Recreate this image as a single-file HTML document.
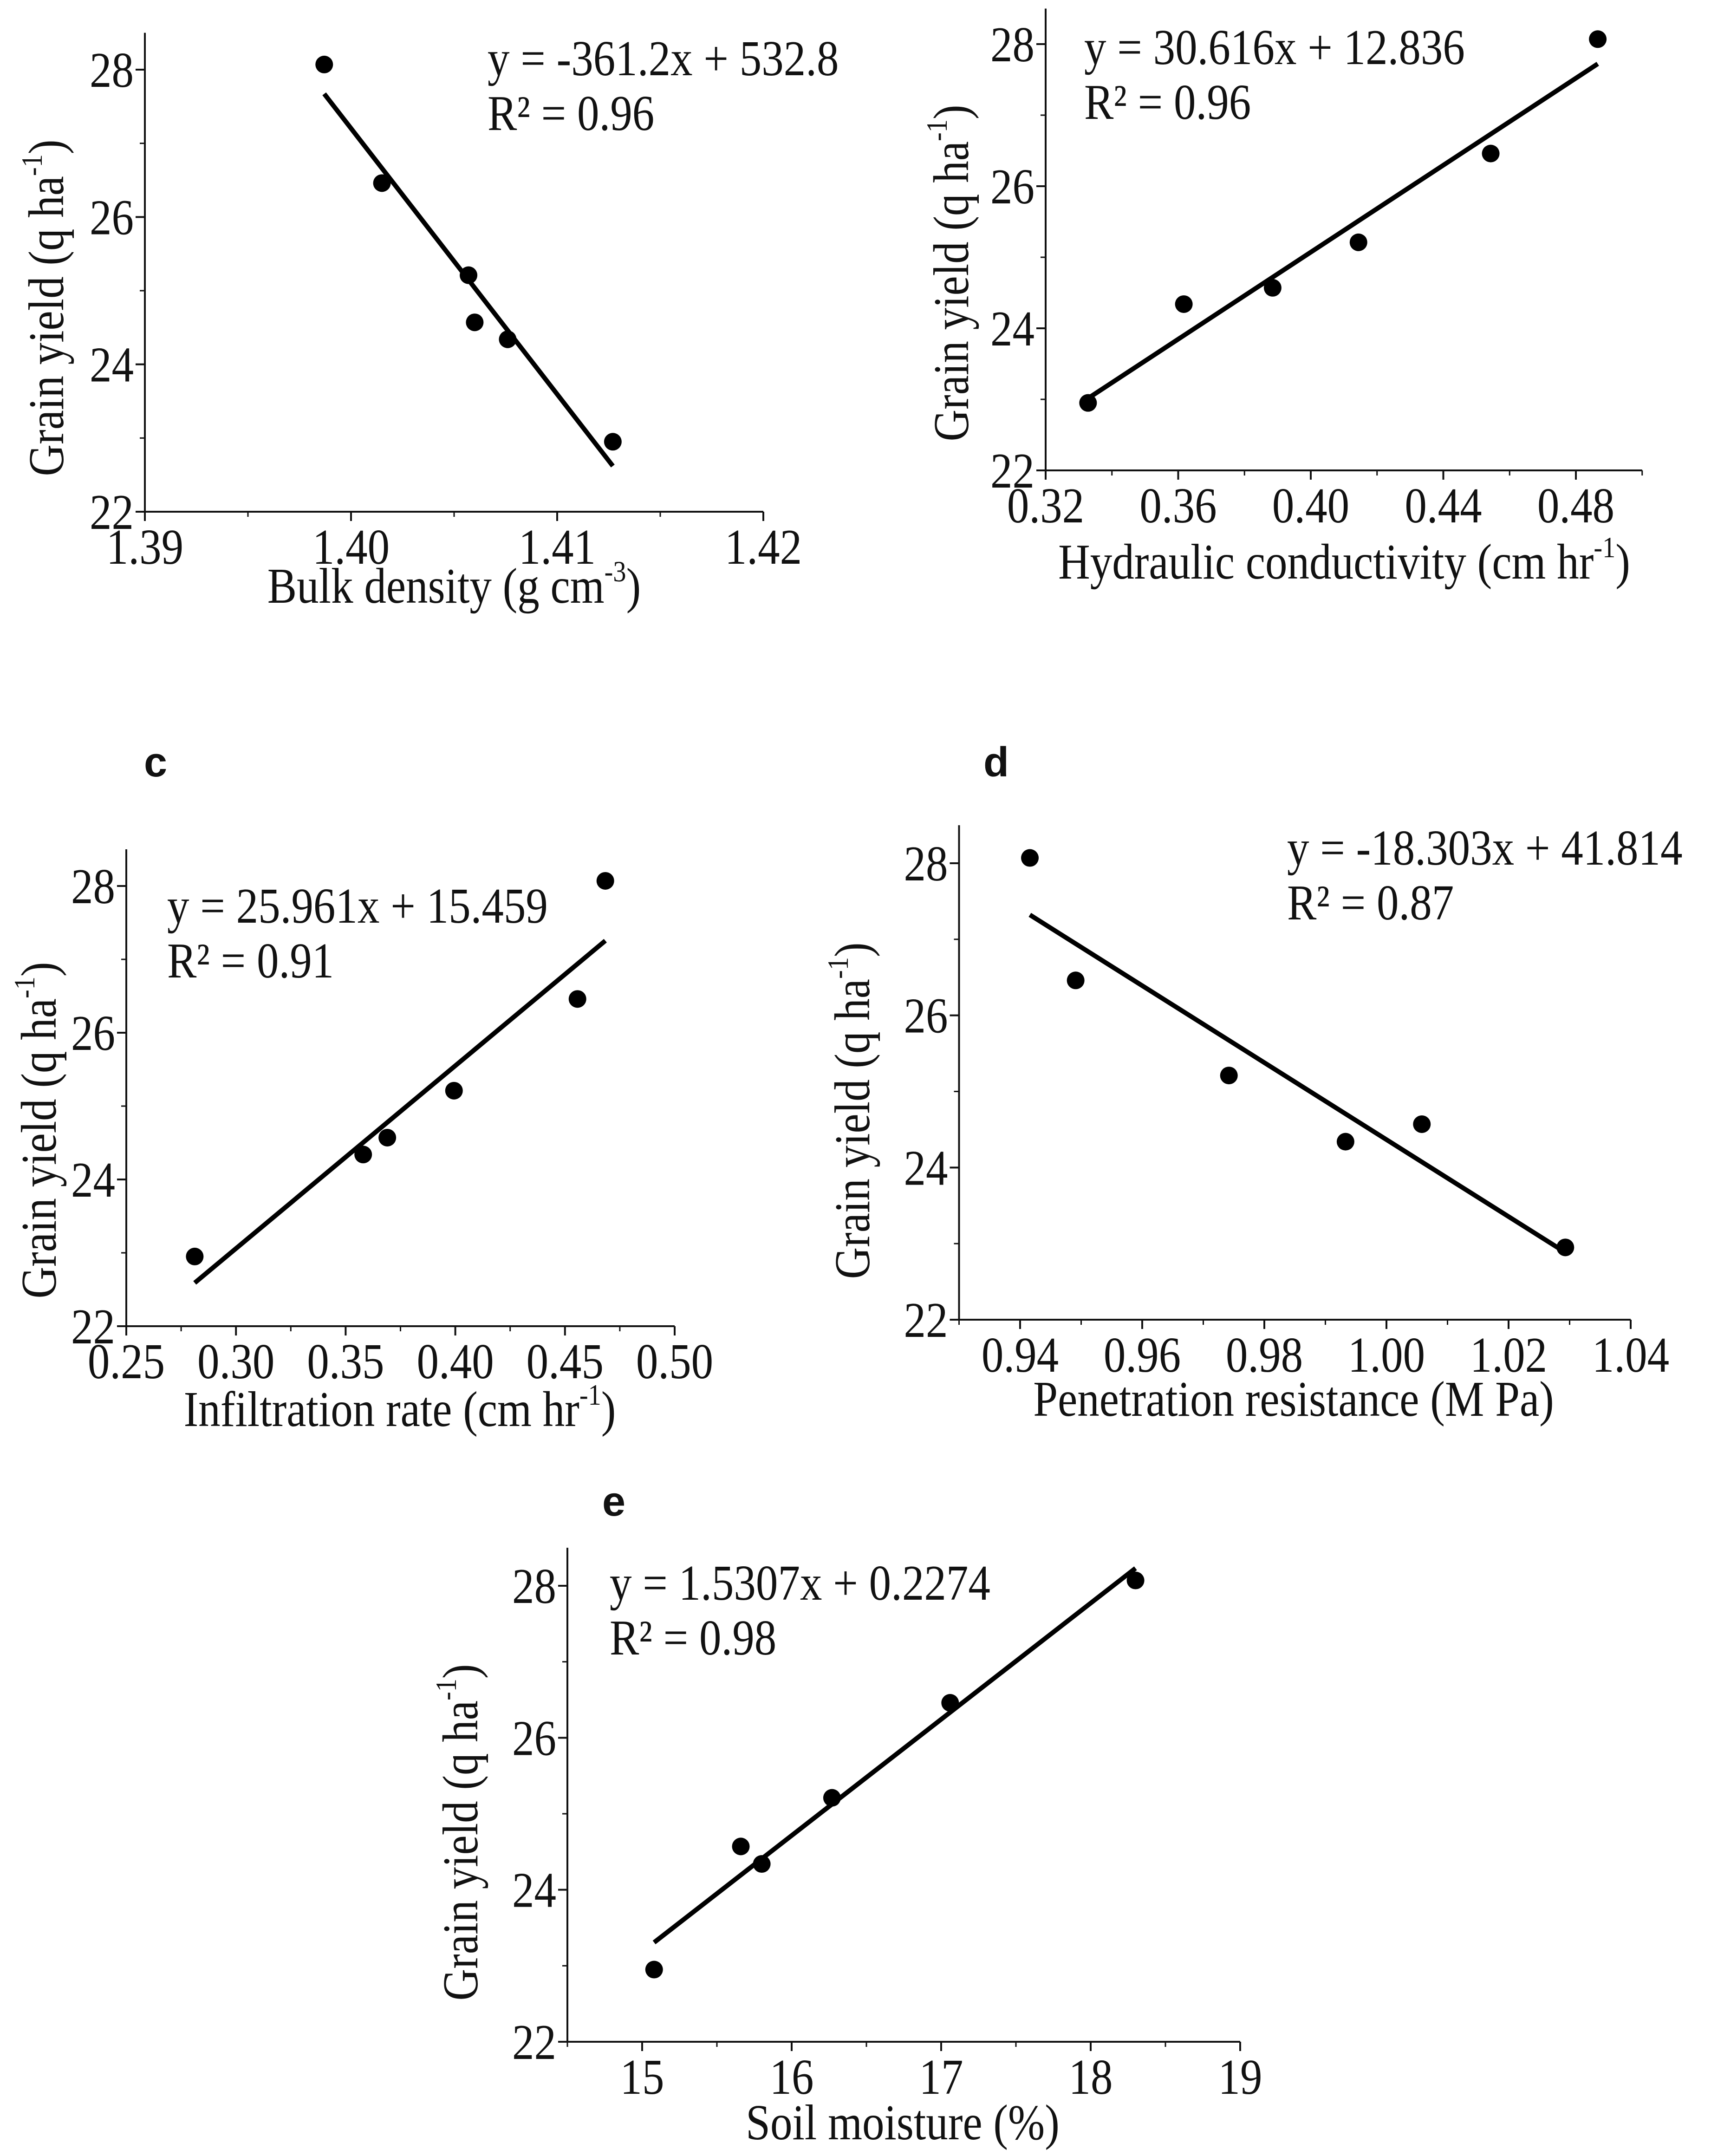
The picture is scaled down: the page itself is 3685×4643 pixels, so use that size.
<!DOCTYPE html>
<html><head><meta charset="utf-8"><style>
html,body{margin:0;padding:0;background:#fff;}
svg{display:block;}
text{font-family:"Liberation Serif",serif;fill:#111;}
.lbl{font-family:"Liberation Sans",sans-serif;font-weight:bold;}
</style></head><body>
<svg id="fig" xmlns="http://www.w3.org/2000/svg" width="3685" height="4643" viewBox="0 0 3685 4643">
<rect width="3685" height="4643" fill="#fff"/>
<text class="lbl" x="310" y="1672" font-size="90">c</text>
<text class="lbl" x="2118" y="1672" font-size="90">d</text>
<text class="lbl" x="1297" y="3264" font-size="90">e</text>
</svg>
<script>
const yieldA = [28.07, 26.46, 25.21, 24.57, 24.34, 22.95];
const bulkDensity = [1.3987, 1.4015, 1.4057, 1.4060, 1.4076, 1.4127];
const yieldB = [22.95, 24.34, 24.57, 25.21, 26.46, 28.07];
const hydraulicCond = [0.3328, 0.3617, 0.3885, 0.4144, 0.4543, 0.4866];
const yieldC = [22.95, 24.34, 24.57, 25.21, 26.46, 28.07];
const infiltration = [0.2812, 0.3580, 0.3690, 0.3994, 0.4557, 0.4684];
const yieldD = [28.07, 26.46, 25.21, 24.34, 24.57, 22.95];
const penetration = [0.9416, 0.9491, 0.9742, 0.9933, 1.0058, 1.0293];
const yieldE = [22.95, 24.57, 24.34, 25.21, 26.46, 28.07];
const soilMoisture = [15.08, 15.66, 15.80, 16.27, 17.06, 18.30];

const yTicks = [22, 24, 26, 28];
const yMinor = [23, 25, 27];
const xTicksA = ["1.39", "1.40", "1.41", "1.42"];
const xTicksB = ["0.32", "0.36", "0.40", "0.44", "0.48"];
const xTicksC = ["0.25", "0.30", "0.35", "0.40", "0.45", "0.50"];
const xTicksD = ["0.94", "0.96", "0.98", "1.00", "1.02", "1.04"];
const xTicksE = ["15", "16", "17", "18", "19"];
const eqA = ["y = -361.2x + 532.8", "R² = 0.96"];
const eqB = ["y = 30.616x + 12.836", "R² = 0.96"];
const eqC = ["y = 25.961x + 15.459", "R² = 0.91"];
const eqD = ["y = -18.303x + 41.814", "R² = 0.87"];
const eqE = ["y = 1.5307x + 0.2274", "R² = 0.98"];

const NS = "http://www.w3.org/2000/svg";
const svg = document.getElementById('fig');
function mk(tag, attrs, parent) {
  const e = document.createElementNS(NS, tag);
  for (const k in attrs) e.setAttribute(k, attrs[k]);
  (parent || svg).appendChild(e);
  return e;
}
const FS = 108, SX = 0.88;
function txt(parent, x, y, anchor, rot) {
  const w = mk('g', {transform:`translate(${x},${y})${rot ? ' rotate(-90)' : ''} scale(${SX},1)`}, parent);
  return mk('text', {x:0, y:0, 'font-size':FS, 'text-anchor':anchor}, w);
}

const panels = [
 {id:'a', xs:bulkDensity, ys:yieldA, ticks:xTicksA, minorStep:0.005, x0:1.39, x1:1.42, px0:312, px1:1644, axMin:1.39, axMax:1.42, py22:1102, py28:150,
  eq:eqA, eqx:1050, eqy:162, title:["Bulk density (g cm","-3",")"], tx:978, ty:1298, ytx:98, yty:663},
 {id:'b', xs:hydraulicCond, ys:yieldB, ticks:xTicksB, minorStep:0.02, x0:0.32, x1:0.48, px0:2252, px1:3394, axMin:0.32, axMax:0.50, py22:1013, py28:95,
  eq:eqB, eqx:2335, eqy:138, title:["Hydraulic conductivity (cm hr","-1",")"], tx:2895, ty:1246, ytx:2047, yty:588},
 {id:'c', xs:infiltration, ys:yieldC, ticks:xTicksC, minorStep:0.025, x0:0.25, x1:0.50, px0:272, px1:1453, axMin:0.25, axMax:0.50, py22:2856, py28:1908,
  eq:eqC, eqx:360, eqy:1987, title:["Infiltration rate (cm hr","-1",")"], tx:861, ty:3071, ytx:82, yty:2434},
 {id:'d', xs:penetration, ys:yieldD, ticks:xTicksD, minorStep:0.01, x0:0.94, x1:1.04, px0:2197, px1:3512, axMin:0.93, axMax:1.04, py22:2842, py28:1859,
  eq:eqD, eqx:2772, eqy:1862, title:["Penetration resistance (M Pa)"], tx:2786, ty:3049, ytx:1834, yty:2392},
 {id:'e', xs:soilMoisture, ys:yieldE, ticks:xTicksE, minorStep:0.5, x0:15, x1:19, px0:1383, px1:2671, axMin:14.5, axMax:19, py22:4397, py28:3415,
  eq:eqE, eqx:1313, eqy:3445, title:["Soil moisture (%)"], tx:1944, ty:4607, ytx:990, yty:3946}
];

panels.forEach(p => {
  const g = mk('g', {});
  
  
  const sx = v => p.px0 + (v - p.x0) / (p.x1 - p.x0) * (p.px1 - p.px0);
  const sy = v => p.py22 + (v - 22) / 6 * (p.py28 - p.py22);
  const L = sx(p.axMin), R = sx(p.axMax), B = sy(22), T = sy(28.5);
  const ax = mk('path', {d:`M${L},${T} V${B} H${R}`, fill:'none', stroke:'#111', 'stroke-width':4}, g);
  
  
  yTicks.forEach(v => {
    mk('line', {x1:L-20, x2:L, y1:sy(v), y2:sy(v), stroke:'#111', 'stroke-width':4}, g);
    const t = txt(g, L-24, sy(v)+37, 'end');
    
    
    t.textContent = String(v);
  });
  yMinor.forEach(v => mk('line', {x1:L-11, x2:L, y1:sy(v), y2:sy(v), stroke:'#111', 'stroke-width':3}, g));
  p.ticks.forEach(s => {
    const v = parseFloat(s);
    mk('line', {x1:sx(v), x2:sx(v), y1:B, y2:B+20, stroke:'#111', 'stroke-width':4}, g);
    const t = txt(g, sx(v), B+112, 'middle');
    
    
    t.textContent = s;
  });
  for (let v = p.axMin; v <= p.axMax + 1e-9; v += p.minorStep) {
    const isMajor = p.ticks.some(s => Math.abs(parseFloat(s) - v) < 1e-6);
    if (!isMajor) mk('line', {x1:sx(v), x2:sx(v), y1:B, y2:B+11, stroke:'#111', 'stroke-width':3}, g);
  }
  const n = p.xs.length;
  const mx = p.xs.reduce((a,b)=>a+b,0)/n, my = p.ys.reduce((a,b)=>a+b,0)/n;
  let sxy = 0, sxx = 0;
  for (let i=0;i<n;i++){ sxy += (p.xs[i]-mx)*(p.ys[i]-my); sxx += (p.xs[i]-mx)**2; }
  const m = sxy/sxx, c = my - m*mx;
  const xa = Math.min(...p.xs), xb = Math.max(...p.xs);
  const ln = mk('line', {x1:sx(xa), y1:sy(m*xa+c), x2:sx(xb), y2:sy(m*xb+c), stroke:'#000', 'stroke-width':10}, g);
  
  
  for (let i=0;i<n;i++){
    const d = mk('circle', {cx:sx(p.xs[i]), cy:sy(p.ys[i]), r:19, fill:'#000'}, g);
    
    
  }
  p.eq.forEach((s, i) => {
    const t = txt(g, p.eqx, p.eqy + i*118, 'start');
    
    
    t.textContent = s;
  });
  const xt = txt(g, p.tx, p.ty, 'middle');
  
  
  const s1 = mk('tspan', {}, xt); s1.textContent = p.title[0];
  if (p.title.length > 1) {
    const s2 = mk('tspan', {'font-size':64, dy:-46}, xt); s2.textContent = p.title[1];
    const s3 = mk('tspan', {dy:46}, xt); s3.textContent = p.title[2];
  }
  const yt = txt(g, p.ytx+38, p.yty, 'middle', true);
  
  
  const a1 = mk('tspan', {}, yt); a1.textContent = 'Grain yield (q ha';
  const a2 = mk('tspan', {'font-size':64, dy:-46}, yt); a2.textContent = '-1';
  const a3 = mk('tspan', {dy:46}, yt); a3.textContent = ')';
});
</script>
</body></html>
